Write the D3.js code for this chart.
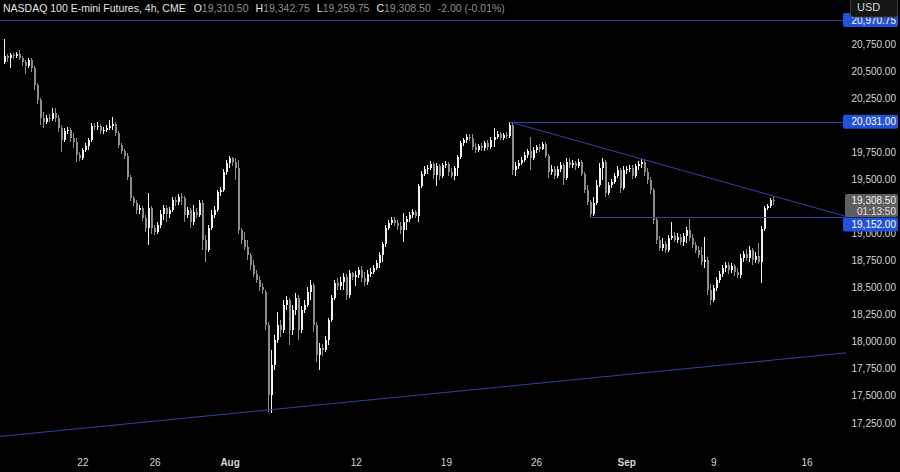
<!DOCTYPE html>
<html><head><meta charset="utf-8">
<script src="https://cdn.jsdelivr.net/npm/d3@7"></script>
<style>html,body{margin:0;padding:0;background:#000;overflow:hidden}</style>
</head><body><svg id="chart" width="900" height="472"></svg>
<script>
// ---- data (4h bars, [open, high, low, close]) ----
const candles = [
[20584,20796,20565,20639],[20639,20657,20584,20620],[20620,20666,20528,20648],[20648,20666,20611,20639],
[20639,20676,20620,20657],[20657,20694,20602,20620],[20620,20639,20547,20584],[20584,20602,20473,20547],
[20547,20620,20528,20602],[20602,20620,20492,20528],[20528,20547,20325,20371],[20371,20389,20195,20232],
[20232,20251,20002,20066],[20066,20122,19974,20030],[20030,20094,20011,20066],[20066,20103,20030,20057],
[20057,20158,20039,20112],[20112,20158,20030,20066],[20066,20094,19937,19974],[19974,20002,19753,19863],
[19863,19974,19845,19946],[19946,19983,19918,19955],[19955,19974,19845,19881],[19881,19927,19789,19845],
[19845,19881,19660,19725],[19725,19753,19669,19697],[19697,19789,19678,19771],[19771,19835,19753,19808],
[19808,19881,19771,19863],[19863,20020,19845,19993],[19993,20020,19955,19983],[19983,20030,19955,19993],
[19993,20011,19918,19946],[19946,19983,19918,19955],[19955,20002,19937,19974],[19974,20048,19955,19993],
[19993,20075,19955,20011],[20011,20030,19900,19927],[19927,19946,19789,19817],[19817,19835,19734,19762],
[19762,19780,19688,19716],[19716,19743,19494,19521],[19521,19540,19300,19327],[19327,19346,19254,19281],
[19281,19309,19180,19217],[19217,19263,19180,19235],[19235,19254,19115,19143],[19143,19171,19014,19050],
[19050,19373,18894,19235],[19235,19254,18995,19050],[19050,19078,18986,19014],[19014,19106,18995,19078],
[19078,19217,19050,19180],[19180,19263,19124,19235],[19235,19263,19106,19180],[19180,19244,19143,19217],
[19217,19336,19200,19309],[19309,19336,19254,19291],[19291,19364,19263,19336],[19336,19373,19263,19327],
[19327,19346,19106,19171],[19171,19244,19143,19217],[19217,19235,19050,19106],[19106,19263,19078,19199],
[19199,19235,19143,19171],
[19171,19309,19152,19281],[19281,19309,18847,18940],[18940,18986,18737,18847],[18847,19078,18829,19050],
[19050,19217,19032,19171],[19171,19254,19143,19217],[19217,19401,19199,19383],[19383,19429,19346,19401],
[19401,19595,19383,19568],[19568,19678,19540,19650],[19650,19716,19604,19697],[19697,19706,19623,19660],
[19660,19697,19494,19604],[19604,19678,18995,19032],[19032,19050,18903,18940],[18940,19014,18847,18875],
[18875,18940,18755,18801],[18801,18819,18663,18709],[18709,18755,18598,18626],[18626,18663,18542,18570],
[18570,18608,18469,18505],[18505,18542,18441,18478],[18460,18478,18109,18155],[18155,18183,17352,17508],
[17508,17924,17342,17785],[17785,18063,17739,18016],[18016,18275,17988,18155],[18155,18201,18044,18109],
[18109,18386,18081,18340],[18340,18423,18293,18386],[18386,18404,17970,18109],[18109,18340,18063,18293],
[18293,18450,18247,18404],[18404,18432,18016,18109],[18109,18331,18081,18293],[18293,18386,18265,18340],
[18340,18505,18321,18460],[18460,18570,18386,18524],[18524,18542,18091,18155],[18155,18183,17813,17878],
[17878,17988,17739,17942],[17942,17979,17869,17924],[17924,18054,17906,18016],[18016,18219,17970,18201],
[18201,18432,18183,18404],[18404,18570,18386,18542],[18542,18589,18478,18515],[18515,18598,18478,18552],
[18552,18635,18478,18598],[18598,18626,18386,18432],[18432,18663,18404,18635],[18635,18645,18570,18598],
[18598,18654,18515,18617],[18617,18690,18589,18663],[18663,18700,18552,18589],[18589,18645,18515,18552],
[18552,18663,18524,18626],[18626,18681,18598,18645],[18645,18709,18626,18681],[18681,18755,18663,18727],
[18727,18829,18681,18801],[18801,18922,18737,18903],[18903,19078,18875,19050],[19050,19124,19032,19096],
[19096,19152,19078,19124],
[19124,19152,19069,19096],[19096,19124,19032,19069],[19069,19106,18995,19032],[19032,19189,18922,19106],
[19106,19162,19032,19134],[19134,19199,19106,19171],[19171,19226,19143,19199],[19199,19217,19143,19162],
[19162,19457,19106,19439],[19439,19577,19420,19549],[19549,19623,19531,19595],[19595,19632,19549,19604],
[19604,19669,19586,19641],[19641,19660,19503,19540],[19540,19650,19439,19623],[19623,19641,19494,19531],
[19531,19650,19512,19632],[19632,19669,19604,19641],[19641,19660,19531,19568],[19568,19604,19512,19531],
[19531,19623,19494,19604],[19604,19725,19531,19706],[19706,19854,19688,19835],[19835,19881,19808,19863],
[19863,19918,19835,19890],[19890,19918,19854,19881],[19881,19918,19771,19798],[19798,19835,19743,19771],
[19771,19826,19753,19808],[19808,19835,19762,19789],[19789,19854,19762,19835],[19835,19863,19771,19798],
[19798,19890,19780,19863],[19863,19974,19798,19890],[19890,19946,19872,19918],[19918,19937,19863,19881],
[19881,19927,19863,19909],[19909,19937,19872,19900],[19900,20031,19881,20002],[20002,20020,19540,19586],
[19586,19660,19531,19623],[19623,19678,19595,19650],[19650,19706,19632,19678],[19678,19753,19660,19725],
[19725,19780,19697,19762],[19762,19890,19586,19697],[19697,19798,19678,19771],[19771,19817,19743,19798],
[19798,19826,19753,19780],[19780,19845,19771,19826],[19826,19845,19697,19716],[19716,19734,19512,19568],
[19568,19632,19540,19595],[19595,19623,19503,19531],[19531,19623,19512,19595],[19595,19660,19568,19632],
[19632,19650,19448,19512],[19512,19697,19494,19660],[19660,19697,19604,19632],[19632,19678,19604,19650],
[19650,19669,19586,19623],[19623,19688,19604,19660],[19660,19678,19531,19549],[19549,19568,19373,19401],
[19401,19448,19263,19291],[19291,19309,19152,19180],
[19180,19336,19162,19281],[19281,19494,19263,19448],[19448,19650,19429,19604],[19604,19697,19494,19660],
[19660,19678,19336,19373],[19373,19476,19355,19448],[19448,19503,19420,19476],[19476,19558,19457,19531],
[19531,19623,19512,19586],[19586,19604,19373,19420],[19420,19623,19401,19586],[19586,19623,19549,19595],
[19595,19632,19568,19604],[19604,19632,19503,19531],[19531,19641,19512,19623],[19623,19669,19586,19641],
[19641,19688,19604,19660],[19660,19678,19531,19568],[19568,19604,19457,19494],[19494,19521,19364,19401],
[19401,19420,19087,19124],[19124,19143,18903,18940],[18940,18977,18838,18866],[18866,18958,18838,18903],
[18903,18931,18819,18847],[18847,18986,18829,18958],[18958,19106,18940,18977],[18977,19014,18922,18940],
[18940,19004,18912,18967],[18967,18995,18894,18922],[18922,19004,18885,18977],[18977,19059,18912,19032],
[19032,19134,18931,18958],[18958,18995,18866,18894],[18894,18922,18819,18847],[18847,18885,18773,18801],
[18801,18875,18709,18737],[18737,18967,18681,18755],[18755,18782,18432,18478],[18478,18533,18340,18386],
[18386,18524,18368,18496],[18496,18598,18469,18570],[18570,18654,18542,18626],[18626,18709,18598,18681],
[18681,18737,18645,18709],[18709,18737,18626,18663],[18663,18727,18635,18700],[18700,18718,18608,18645],
[18645,18681,18589,18617],[18617,18810,18589,18773],[18773,18838,18737,18810],[18810,18857,18746,18773],
[18773,18885,18737,18847],[18847,18866,18709,18755],[18755,18829,18727,18792],[18792,18912,18718,18737],
[18737,19069,18542,19041],[19041,19254,19023,19235],[19235,19272,19217,19254],[19254,19325,19240,19310.5],
[19310.5,19342.75,19259.75,19308.5]
];
const priceTicks = [17250,17500,17750,18000,18250,18500,18750,19000,19250,19500,19750,20000,20250,20500,20750];
const hiddenTicks = [19250,20000]; // covered by labels in the reference
const dayLabels = ["22","26","Aug","12","19","26","Sep","9","16"];
const dayLabelBars = [26,50,75,117,147,177,207,236,267];
const monthLabels = ["Aug","Sep"];
const levelPrices = [20970.75, 20031, 19152];
const levelStartBars = [-3, 168, 195];
const resistanceLine = [[168,20031],[212,19688]];
const supportLine = [[-2,17125],[279,17895]];
const title = "NASDAQ 100 E-mini Futures, 4h, CME";
const changeText = "-2.00 (-0.01%)";
const countdown = "01:13:50";
const currency = "USD";

// ---- layout ----
const W = 900, H = 472, plotR = 843;
const svg = d3.select("#chart");
svg.append("rect").attr("width",W).attr("height",H).attr("fill","#000");
const x = d3.scaleLinear().domain([-1.6, 279]).range([0, plotR]);
const y = d3.scaleLinear().domain([17250, 20750]).range([423, 44]);
const fmt = d3.format(",.2f");
const UP = "#f2f2f2", DOWN = "#8d8d8d", LINE = "#3340a6", BLUE = "#2352d8";
const FONT = "'Liberation Sans', Arial, sans-serif";

svg.append("defs").append("clipPath").attr("id","plot")
  .append("rect").attr("x",0).attr("y",0).attr("width",plotR+3).attr("height",445);

const plot = svg.append("g").attr("clip-path","url(#plot)");

// candles
const cg = plot.append("g").attr("shape-rendering","crispEdges");
candles.forEach((d,i)=>{
  const [o,h,l,c] = d;
  const col = c >= o ? UP : DOWN;
  const cx = Math.round(x(i));
  cg.append("rect").attr("x",cx-1).attr("width",1)
    .attr("y",Math.round(y(h))).attr("height",Math.max(1,Math.round(y(l))-Math.round(y(h))))
    .attr("fill",col);
  const top = Math.round(y(Math.max(o,c))), bot = Math.round(y(Math.min(o,c)));
  cg.append("rect").attr("x",cx-1).attr("width",2)
    .attr("y",top).attr("height",Math.max(1,bot-top)).attr("fill",col);
});

// lines
const lg = plot.append("g").attr("stroke",LINE).attr("stroke-width",1).attr("fill","none");
levelPrices.forEach((p,k)=>{
  lg.append("line").attr("x1",x(levelStartBars[k])).attr("x2",plotR+3)
    .attr("y1",Math.round(y(p))+0.5).attr("y2",Math.round(y(p))+0.5);
});
function extLine(pts, fromBar, toBar){
  const [[b1,p1],[b2,p2]] = pts;
  const s = (p2-p1)/(b2-b1);
  lg.append("line").attr("x1",x(fromBar)).attr("y1",y(p1+s*(fromBar-b1)))
    .attr("x2",x(toBar)).attr("y2",y(p1+s*(toBar-b1)));
}
extLine(resistanceLine, resistanceLine[0][0], 280);
extLine(supportLine, -3, 280);

// price axis labels
const axg = svg.append("g").attr("font-family",FONT).attr("font-size",10).attr("fill","#d6d6d6");
priceTicks.forEach(p=>{
  if (hiddenTicks.includes(p)) return;
  axg.append("text").attr("x",896).attr("y",y(p)).attr("dy","0.35em")
    .attr("text-anchor","end").text(fmt(p));
});

// time axis labels
dayLabels.forEach((t,k)=>{
  svg.append("text").attr("x",x(dayLabelBars[k])).attr("y",466)
    .attr("text-anchor","middle").attr("font-family",FONT).attr("font-size",10)
    .attr("font-weight",monthLabels.includes(t)?"bold":"normal")
    .attr("fill","#d6d6d6").text(t);
});

// level labels
function tag(yc, h, fill, lines, col, textOff){
  svg.append("rect").attr("x",plotR).attr("y",yc-h/2).attr("width",W-plotR-2).attr("height",h)
    .attr("rx",2).attr("fill",fill);
  lines.forEach((t,k)=>{
    svg.append("text").attr("x",896).attr("y",yc-h/2+10+k*12+(textOff||0)).attr("text-anchor","end")
      .attr("font-family",FONT).attr("font-size",10).attr("fill",col).text(t);
  });
}
const last = candles[candles.length-1];
tag(y(levelPrices[0]), 14, BLUE, [fmt(levelPrices[0])], "#fff", 0.5);
tag(y(levelPrices[1]), 14, BLUE, [fmt(levelPrices[1])], "#fff");
const curTop = y(last[3]) - 6;
svg.append("rect").attr("x",plotR+2).attr("y",curTop).attr("width",W-plotR-4).attr("height",23)
  .attr("rx",2).attr("fill","#5f5f5f");
svg.append("text").attr("x",896).attr("y",curTop+9.5).attr("text-anchor","end")
  .attr("font-family",FONT).attr("font-size",10).attr("fill","#f0f0f0").text(fmt(last[3]));
svg.append("text").attr("x",896).attr("y",curTop+20.5).attr("text-anchor","end")
  .attr("font-family",FONT).attr("font-size",10).attr("fill","#e0e0e0").text(countdown);
const lvl3 = Math.max(y(levelPrices[2]), curTop + 23 + 7.5);
tag(lvl3, 14, BLUE, [fmt(levelPrices[2])], "#fff");

// currency box
svg.append("rect").attr("x",850.5).attr("y",-4.5).attr("width",47).attr("height",21.5)
  .attr("rx",3).attr("fill","#151515").attr("stroke","#3a3a3a");
svg.append("text").attr("x",857).attr("y",11).attr("font-family",FONT).attr("font-size",11)
  .attr("fill","#d6d6d6").text(currency);

// header
const hdr = svg.append("text").attr("x",3).attr("y",12).attr("font-family",FONT).attr("font-size",10.5);
hdr.append("tspan").attr("fill","#e6e6e6").text(title);
const letters = ["O","H","L","C"];
letters.forEach((L,k)=>{
  hdr.append("tspan").attr("dx",k===0?8:7).attr("fill","#e6e6e6").text(L);
  hdr.append("tspan").attr("fill","#8f8f8f").text(fmt(last[k]));
});
hdr.append("tspan").attr("dx",7).attr("fill","#8f8f8f").text(changeText);
</script></body></html>
